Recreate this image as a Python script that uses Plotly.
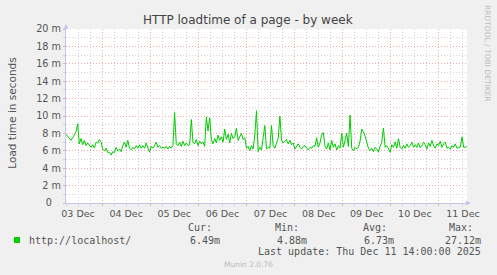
import pandas as pd
import plotly.graph_objects as go

# ---- data (load time in milliseconds, sampled every 50 minutes) ----
start_time = "2025-12-03 06:00"
end_time = "2025-12-11 14:00"
step = "50min"
load_ms = [
    7.9, 7.7, 7.5, 7.2, 7.5, 7.8, 8.2, 9.1, 6.8, 7.4,
    6.7, 7.2, 6.6, 6.9, 6.7, 6.4, 6.7, 6.3, 7.0, 6.9,
    7.3, 7.0, 6.2, 6.0, 6.3, 5.8, 5.85, 5.5, 5.9, 5.8,
    6.4, 6.0, 6.2, 5.9, 6.6, 7.0, 6.4, 7.2, 6.3, 6.1,
    6.4, 6.2, 6.6, 6.3, 6.7, 6.3, 6.6, 6.3, 6.9, 6.3,
    5.85, 6.5, 6.3, 6.6, 7.0, 6.4, 6.6, 6.3, 6.4, 6.3,
    6.5,
    6.2, 6.5, 6.3, 6.6, 10.4, 6.8, 6.6, 7.0, 6.5, 7.1,
    6.6, 6.9, 6.6, 6.7, 9.6, 7.0, 6.8, 7.3, 6.6, 7.1,
    6.8, 7.0, 6.5, 9.9, 8.3, 9.8, 7.3, 6.8, 7.4, 6.9,
    7.8, 7.2, 7.6, 7.0, 8.5, 7.3, 7.9, 6.9, 8.0, 7.4,
    7.6, 8.6, 7.2, 7.7, 8.0, 7.3, 7.5, 6.3, 6.5, 6.0,
    6.6, 6.2, 7.8, 10.6, 5.9, 6.4, 6.1, 7.5, 8.9, 6.2,
    6.4,
    6.3, 8.9, 6.6, 6.3, 6.9, 7.4, 10.0, 7.2, 6.9, 7.1,
    7.3, 6.8, 7.2, 6.7, 6.9, 6.2, 6.5, 6.8, 6.4, 6.2,
    6.5, 6.6, 6.3, 6.1, 6.4, 6.3, 6.6, 6.5, 7.5, 6.4,
    6.9, 7.8, 8.1, 6.6, 6.2, 6.9, 6.1, 7.2, 6.4, 6.8,
    6.1, 6.6, 6.3, 8.0, 6.4, 7.4, 8.0, 6.5, 10.1, 6.3,
    6.0, 6.4, 6.2, 6.4, 7.1, 8.5, 8.2, 7.7, 6.8, 6.3,
    6.0, 6.3, 5.9, 6.4, 6.2, 5.85, 6.5, 7.0, 8.6, 6.4,
    6.6, 6.2, 5.85, 6.7, 6.4, 7.0, 6.3, 7.4, 6.4, 6.2,
    6.6, 6.3, 6.8, 6.4, 6.6, 7.0, 6.4, 6.7, 6.4, 6.9,
    6.35, 6.6, 7.0, 6.7, 6.2, 6.9, 6.5, 7.2, 6.6, 6.3,
    6.8, 6.6, 7.1, 6.4, 6.8, 7.0, 6.3, 6.4, 6.2, 6.6,
    6.4, 6.8, 6.3, 6.4, 6.4, 7.6, 6.4, 6.4, 6.49,
]
y_tickvals = [0, 2, 4, 6, 8, 10, 12, 14, 16, 18, 20]
y_ticktext = ["0\u00a0\u00a0\u00a0", "2 m", "4 m", "6 m", "8 m", "10 m",
              "12 m", "14 m", "16 m", "18 m", "20 m"]
series_name = "http://localhost/"
stat_labels = ["Cur:", "Min:", "Avg:", "Max:"]
stat_values = ["6.49m", "4.88m", "6.73m", "27.12m"]
title_text = "HTTP loadtime of a page - by week"
y_title = "Load time in seconds"
last_update = "Last update: Thu Dec 11 14:00:00 2025"
footer = "Munin 2.0.76"
side_text = "RRDTOOL / TOBI OETIKER"

times = pd.date_range(start=start_time, periods=len(load_ms), freq=step)

W, H = 497, 275
L, R, T, B = 66, 467, 29, 203


def px(x):
    return (x - L) / (R - L)


def py(y):
    return (B - y) / (B - T)


SANS = "DejaVu Sans"
MONO = "DejaVu Sans Mono"
TXT = "#555555"
MGRID = "#F0A8A8"
GRID = "#D4D4D4"
AXIS = "#C4C4EC"

fig = go.Figure()
fig.add_trace(go.Scatter(
    x=times, y=load_ms, mode="lines",
    line=dict(color="#00CC00", width=1),
    showlegend=False, hoverinfo="skip",
))

fig.update_layout(
    width=W, height=H,
    margin=dict(l=L, r=W - R, t=T, b=H - B, pad=0),
    paper_bgcolor="#F0F0F0",
    plot_bgcolor="#FFFFFF",
    showlegend=False,
    xaxis=dict(
        type="date", range=[start_time, end_time],
        tick0="2025-12-03", dtick=86400000,
        ticklabelmode="period", tickformat="%d %b",
        showgrid=True, gridcolor=MGRID, gridwidth=1, griddash="1px,2px",
        ticks="outside", ticklen=2, tickcolor=MGRID,
        showline=True, linecolor=AXIS, linewidth=1,
        zeroline=False,
        tickfont=dict(family=SANS, size=9.5, color=TXT),
        minor=dict(dtick=21600000, tick0="2025-12-03", showgrid=True,
                   gridcolor=GRID, gridwidth=1, griddash="1px,2px",
                   ticks="outside", ticklen=2, tickcolor=GRID),
        fixedrange=True,
    ),
    yaxis=dict(
        range=[0, 20], tickvals=y_tickvals, ticktext=y_ticktext,
        showgrid=True, gridcolor=MGRID, gridwidth=1, griddash="1px,2px",
        ticks="outside", ticklen=2, tickcolor=MGRID,
        showline=True, linecolor=AXIS, linewidth=1,
        zeroline=False,
        tickfont=dict(family=SANS, size=9.7, color=TXT),
        minor=dict(dtick=1, tick0=0, showgrid=True, gridcolor=GRID,
                   gridwidth=1, griddash="1px,2px",
                   ticks="outside", ticklen=2, tickcolor=GRID),
        fixedrange=True,
    ),
)

ann = []
ann.append(dict(text=title_text, x=px(248.3), y=py(20), xref="paper", yref="paper",
                showarrow=False, xanchor="center", yanchor="middle",
                font=dict(family=SANS, size=12, color="#444444")))
ann.append(dict(text=y_title, x=px(11.7), y=py(113), xref="paper", yref="paper",
                showarrow=False, xanchor="center", yanchor="middle", textangle=-90,
                font=dict(family=SANS, size=10.5, color=TXT)))
ann.append(dict(text=side_text, x=px(488), y=py(53), xref="paper", yref="paper",
                showarrow=False, xanchor="center", yanchor="middle", textangle=90,
                font=dict(family=SANS, size=7.5, color="#BBBBBB")))
ann.append(dict(text=series_name, x=px(26.7), y=py(240), xref="paper", yref="paper",
                showarrow=False, xanchor="left", yanchor="middle",
                font=dict(family=MONO, size=10, color=TXT)))
label_left = [185.7, 272.7, 361.0, 447.0]
value_right = [221.7, 309.0, 396.0, 483.0]
for lab, lx, val, vx in zip(stat_labels, label_left, stat_values, value_right):
    ann.append(dict(text=lab, x=px(lx), y=py(227.7), xref="paper", yref="paper",
                    showarrow=False, xanchor="left", yanchor="middle",
                    font=dict(family=MONO, size=10, color=TXT)))
    ann.append(dict(text=val, x=px(vx), y=py(240), xref="paper", yref="paper",
                    showarrow=False, xanchor="right", yanchor="middle",
                    font=dict(family=MONO, size=10, color=TXT)))
ann.append(dict(text=last_update, x=px(483), y=py(251.7), xref="paper", yref="paper",
                showarrow=False, xanchor="right", yanchor="middle",
                font=dict(family=MONO, size=10, color=TXT)))
ann.append(dict(text=footer, x=px(248), y=py(264), xref="paper", yref="paper",
                showarrow=False, xanchor="center", yanchor="middle",
                font=dict(family=SANS, size=7.5, color="#BBBBBB")))
# axis arrows
ann.append(dict(text="", x=px(471), y=0, xref="paper", yref="paper",
                ax=-6, ay=0, showarrow=True, arrowhead=2, arrowsize=1,
                arrowwidth=1, arrowcolor=AXIS, standoff=0))
ann.append(dict(text="", x=0, y=py(24), xref="paper", yref="paper",
                ax=0, ay=6, showarrow=True, arrowhead=2, arrowsize=1,
                arrowwidth=1, arrowcolor=AXIS, standoff=0))
fig.update_layout(annotations=ann)

fig.add_shape(type="rect", xref="paper", yref="paper",
              x0=px(14), x1=px(20), y0=py(243), y1=py(237),
              fillcolor="#00CC00", line=dict(width=0))

fig.write_html("out.html")
